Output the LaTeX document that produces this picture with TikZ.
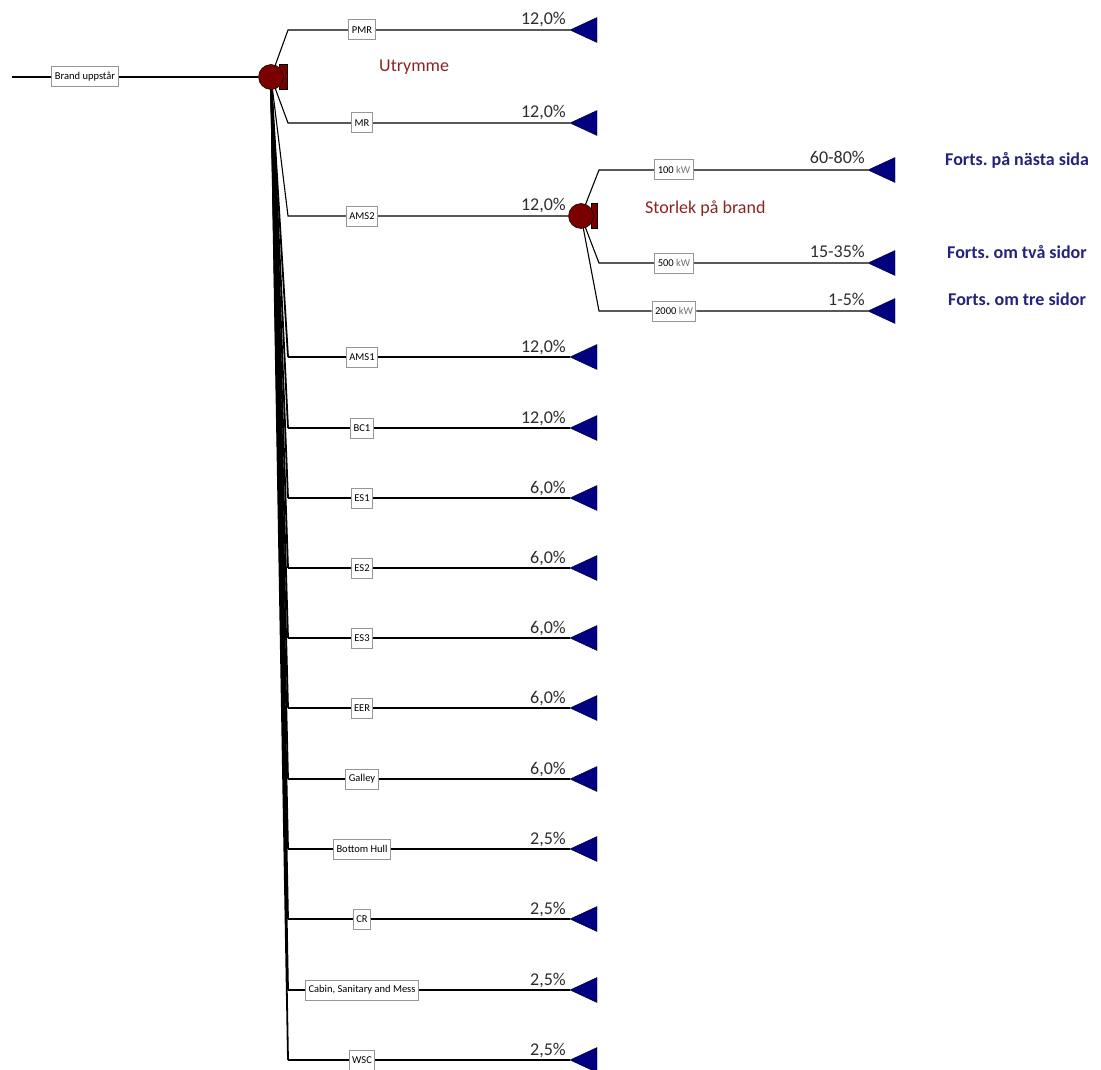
\documentclass[tikz,border=0pt]{standalone}
\usepackage{fontspec}
\setmainfont{Carlito}
\usetikzlibrary{backgrounds}
\frenchspacing

\definecolor{chancered}{RGB}{122,0,0}
\definecolor{endblue}{RGB}{0,0,128}
\definecolor{titlered}{RGB}{140,35,35}
\definecolor{notblue}{RGB}{35,35,125}
\definecolor{pcttext}{RGB}{45,45,45}
\definecolor{boxgray}{RGB}{150,150,150}

\tikzset{
  branch/.style={draw=black, line width=1.1pt},
  fan/.style={draw=black, line width=1.8pt},
  labelbox/.style={draw=boxgray, line width=1pt, fill=white, inner xsep=3pt,
    inner ysep=0pt, minimum height=20pt, font=\fontsize{10.5}{12}\selectfont},
  pct/.style={anchor=base east, inner sep=0pt, text=pcttext,
    font=\fontsize{18}{20}\selectfont},
  chance/.style={circle, minimum size=25pt, draw=black, line width=0.5pt,
    fill=chancered, inner sep=0pt},
  tab/.style={draw=black, line width=0.5pt, fill=chancered},
  endtri/.style={fill=endblue, draw=black!70!endblue, line width=0.4pt},
  heading/.style={text=titlered, font=\fontsize{18}{20}\selectfont, inner sep=0pt},
  note/.style={text=notblue, font=\bfseries\fontsize{18}{20}\selectfont,
    anchor=west, inner sep=0pt},
}

\newcommand{\leafmark}[1]{\filldraw[endtri] (#1) -- ++(27,-12.5) -- ++(0,25) -- cycle;}

\begin{document}
\begin{tikzpicture}[x=1pt, y=-1pt]
  \useasboundingbox (0,0) rectangle (1101,1070);

  % root: fire starts
  \coordinate (start) at (12,77);
  \node[labelbox] (root) at (85,77) {Brand uppstår};

  % first chance node (room)
  \draw[tab] (279,64) rectangle (287,89);
  \node[chance] (ch1) at (271,77) {};
  \node[heading, anchor=west] (room) at (379,67) {Utrymme};

  % second chance node (fire size)
  \draw[tab] (591,203.5) rectangle (597,228.5);
  \node[chance] (ch2) at (581,216) {};
  \node[heading, anchor=west] (size) at (645,209) {Storlek på brand};

  % rooms: name / label y / probability
  \foreach \n/\t/\y/\p in {
      1/PMR/30/{12,0\%},
      2/MR/123/{12,0\%},
      3/AMS2/216/{12,0\%},
      4/AMS1/357/{12,0\%},
      5/BC1/428/{12,0\%},
      6/ES1/498/{6,0\%},
      7/ES2/568/{6,0\%},
      8/ES3/638/{6,0\%},
      9/EER/708/{6,0\%},
      10/Galley/779/{6,0\%},
      11/Bottom Hull/849/{2,5\%},
      12/CR/919/{2,5\%},
      13/{Cabin, Sanitary and Mess}/990/{2,5\%},
      14/WSC/1060/{2,5\%}} {
    \coordinate (b\n) at (288,\y);
    \coordinate (e\n) at (570,\y);
    \node[labelbox] (r\n) at (362,\y) {\t};
    \node[pct] (p\n) at (566,\y-5) {\p};
  }

  % fire sizes
  \foreach \n/\t/\y/\p in {
      1/{100 {\color{black!55}kW}}/170/{60-80\%},
      2/{500 {\color{black!55}kW}}/263/{15-35\%},
      3/{2000 {\color{black!55}kW}}/311/{1-5\%}} {
    \coordinate (sb\n) at (599,\y);
    \coordinate (se\n) at (868,\y);
    \node[labelbox] (s\n) at (674,\y) {\t};
    \node[pct] (sp\n) at (865,\y-6) {\p};
  }

  % continuation notes
  \node[note] (n1) at (945,160) {Forts. på nästa sida};
  \node[note] (n2) at (947,252) {Forts. om två sidor};
  \node[note] (n3) at (948,299) {Forts. om tre sidor};

  % end markers
  \foreach \n in {1,2,4,5,6,7,8,9,10,11,12,13,14} {\leafmark{e\n}}
  \foreach \n in {1,2,3} {\leafmark{se\n}}

  % connectors
  \begin{pgfonlayer}{background}
    \draw[branch] (start) -- (root) -- (ch1);
    \draw[branch] (ch1.center) -- (b1) -- (r1) -- (e1);
    \draw[branch] (ch1.center) -- (b2) -- (r2) -- (e2);
    \foreach \n in {4,5,6,7,8,9,10,11,12,13,14} {
      \draw[fan] (ch1.center) -- (b\n);
      \draw[branch] (b\n) -- (r\n) -- (e\n);
    }
    \draw[branch] (ch1.center) -- (b3) -- (r3) -- (ch2);
    \foreach \n in {1,2,3} {
      \draw[branch] (ch2.center) -- (sb\n) -- (s\n) -- (se\n);
    }
  \end{pgfonlayer}
\end{tikzpicture}
\end{document}
